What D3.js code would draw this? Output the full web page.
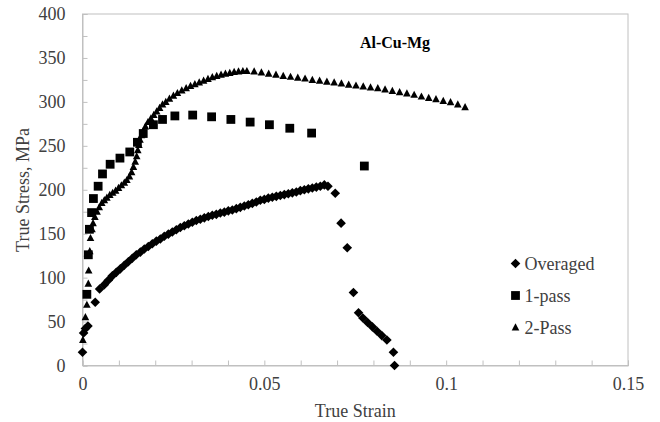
<!DOCTYPE html>
<html>
<head>
<meta charset="utf-8">
<script src="https://cdn.jsdelivr.net/npm/d3@7"></script>
<style>
  body { margin: 0; background: #fff; }
  text { font-family: "Liberation Serif", "Times New Roman", serif; }
</style>
</head>
<body>
<div class="container"></div>
<script>
// data: [strain, stress]
let overaged = [
    [0, 15], [0.0003, 37], [0.0008, 42], [0.0015, 45], [0.0035, 72], [0.0047, 87],
    [0.006, 92], [0.0071, 97], [0.0082, 102], [0.0093, 106], [0.0104, 110], [0.0115, 114],
    [0.0126, 118], [0.0137, 122], [0.0148, 126], [0.0159, 129], [0.017, 132.5], [0.0181, 135.5],
    [0.0192, 138.5], [0.0203, 141.5], [0.0214, 144], [0.0225, 147], [0.0236, 149.5], [0.0247, 152],
    [0.0258, 154.5], [0.0269, 157], [0.028, 159], [0.0291, 161], [0.0302, 163], [0.0313, 165],
    [0.0324, 166.5], [0.0335, 168], [0.0346, 169.5], [0.0357, 171], [0.0368, 172], [0.0379, 173.5],
    [0.039, 174.5], [0.0401, 176], [0.0412, 177], [0.0423, 178.5], [0.0434, 180], [0.0445, 181.5],
    [0.0456, 183], [0.0467, 184.5], [0.0478, 186], [0.0489, 188], [0.05, 189], [0.0511, 190.5],
    [0.0522, 191.5], [0.0533, 192.5], [0.0544, 193.5], [0.0555, 194.5], [0.0566, 195.5], [0.0577, 196.5],
    [0.0588, 197.5], [0.0599, 199], [0.061, 200], [0.0621, 201], [0.0632, 202], [0.0643, 203],
    [0.0654, 204], [0.0665, 205.5], [0.0675, 204], [0.0695, 196], [0.0711, 162], [0.0728, 134],
    [0.0745, 83], [0.0759, 60], [0.0771, 54], [0.0784, 49], [0.0797, 44], [0.081, 39],
    [0.0823, 34], [0.0837, 29], [0.0855, 15], [0.0858, 0]
];

let onePass = [
    [0.0012, 81], [0.0016, 126], [0.0019, 155], [0.0025, 174], [0.003, 190], [0.0043, 204],
    [0.0055, 218], [0.0076, 229], [0.0103, 236], [0.013, 243], [0.0151, 254], [0.0167, 264],
    [0.0195, 274], [0.022, 280], [0.0254, 284], [0.0303, 285], [0.0355, 283], [0.0408, 280],
    [0.0461, 277], [0.0514, 274], [0.057, 270], [0.063, 264.5], [0.0775, 227]
];

let twoPass = [
    [0.0001, 29], [0.0004, 40], [0.0008, 55], [0.0012, 69], [0.0016, 93], [0.0017, 108],
    [0.002, 130], [0.0022, 145], [0.0026, 155], [0.0029, 162], [0.0034, 169], [0.004, 175],
    [0.0046, 180], [0.0053, 185], [0.006, 188], [0.0067, 191], [0.0075, 194], [0.0083, 196.5],
    [0.0091, 199], [0.0099, 202], [0.0107, 205], [0.0115, 208], [0.0122, 211], [0.0129, 215],
    [0.0135, 220], [0.014, 226], [0.0145, 232], [0.0149, 238], [0.0152, 245], [0.0155, 251],
    [0.0158, 257], [0.0162, 262], [0.0167, 267], [0.0173, 272], [0.018, 277], [0.0188, 281],
    [0.0196, 285], [0.0204, 289], [0.0212, 293], [0.022, 297], [0.0229, 300], [0.0239, 303.5],
    [0.025, 307], [0.0261, 310], [0.0273, 313], [0.0285, 315.5], [0.0297, 318], [0.0309, 320],
    [0.0321, 322], [0.0333, 324], [0.0345, 326], [0.0357, 328], [0.0369, 329.5], [0.0381, 331],
    [0.0393, 332], [0.0405, 333], [0.0417, 334], [0.0429, 334.5], [0.0441, 335], [0.0452, 335],
    [0.0472, 334.5], [0.0492, 333.5], [0.0512, 332], [0.0532, 331], [0.0552, 329.5], [0.0572, 328.5],
    [0.0592, 327.5], [0.0612, 326.5], [0.0632, 325], [0.0652, 324], [0.0672, 323], [0.0692, 322],
    [0.0712, 321], [0.0732, 319.5], [0.0752, 318.5], [0.0772, 317.5], [0.0792, 316.5], [0.0812, 315.5],
    [0.0832, 314], [0.0852, 312.5], [0.0872, 311], [0.0892, 309.5], [0.0912, 308], [0.0932, 306],
    [0.0952, 304.5], [0.0972, 303], [0.0992, 301], [0.1012, 299.5], [0.1032, 297], [0.1052, 294]
];

let xTicks = d3.range(0, 16).map(i => i / 100);
let yTicks = d3.range(0, 17).map(i => i * 25);
let legendNames = ["Overaged", "1-pass", "2-Pass"];

let margin = {top: 14, right: 32, bottom: 56.5, left: 82.5},
    width = 660 - margin.left - margin.right,
    height = 422 - margin.top - margin.bottom;

let svg = d3.select(".container")
    .append("svg")
    .attr("width", 660)
    .attr("height", 422)
    .append("g")
    .attr("transform", "translate(" + margin.left + "," + margin.top + ")");

let x = d3.scaleLinear().domain([0, 0.15]).range([0, width]);
let y = d3.scaleLinear().domain([0, 400]).range([height, 0]);

// plot area border
svg.append("rect")
    .attr("width", width)
    .attr("height", height)
    .style("fill", "none")
    .attr("stroke", "#c0c0c0");

let xAxis = svg.append("g")
    .attr("transform", "translate(0," + height + ")")
    .call(d3.axisBottom(x)
        .tickValues(xTicks)
        .tickSize(-5)
        .tickPadding(12)
        .tickFormat(d => (Math.round(d * 100) % 5 === 0) ? String(d) : ""));

let yAxis = svg.append("g")
    .call(d3.axisLeft(y)
        .tickValues(yTicks)
        .tickSize(-5)
        .tickPadding(17)
        .tickFormat(d => d % 50 === 0 ? d : ""));

[xAxis, yAxis].forEach(a => {
    a.attr("font-family", "Liberation Serif").attr("font-size", 18);
    a.select(".domain").attr("stroke", "#c0c0c0");
    a.selectAll(".tick line").attr("stroke", "#c0c0c0");
    a.selectAll(".tick text")
        .style("font-family", "'Liberation Serif', serif")
        .style("font-size", "18px")
        .attr("fill", "#404040");
});

// marker shapes
const diamond = "M0,-4.8L4.8,0L0,4.8L-4.8,0Z";
const square = "M-4.4,-4.4H4.4V4.4H-4.4Z";
const triangle = "M0,-4.2L3.8,3L-3.8,3Z";

const drawSeries = (data, shape, cls) => {
    svg.append("g")
        .selectAll("path." + cls)
        .data(data)
        .enter()
        .append("path")
        .attr("class", cls)
        .attr("d", shape)
        .attr("transform", d => "translate(" + x(d[0]) + "," + y(d[1]) + ")")
        .style("fill", "black");
};

drawSeries(overaged, diamond, "overaged");
drawSeries(onePass, square, "onepass");
drawSeries(twoPass, triangle, "twopass");

// axis titles
svg.append("text")
    .attr("x", width / 2)
    .attr("y", 403)
    .attr("text-anchor", "middle")
    .style("font-size", "18px")
    .attr("fill", "#404040")
    .text("True Strain");

svg.append("text")
    .attr("transform", "translate(" + (23 - margin.left) + "," + (190 - margin.top) + ") rotate(-90)")
    .attr("dy", "0.35em")
    .attr("text-anchor", "middle")
    .style("font-size", "18px")
    .attr("fill", "#404040")
    .text("True Stress, MPa");

svg.append("text")
    .attr("x", 395 - margin.left)
    .attr("y", 42 - margin.top)
    .attr("dy", "0.35em")
    .attr("text-anchor", "middle")
    .style("font-size", "16px")
    .style("font-weight", "bold")
    .attr("fill", "black")
    .text("Al-Cu-Mg");

// legend
let shapes = [diamond, square, triangle];
let legend = svg.append("g")
    .attr("transform", "translate(" + (515.5 - margin.left) + "," + (263.5 - margin.top) + ")");

legendNames.forEach((name, i) => {
    legend.append("path")
        .attr("d", shapes[i])
        .attr("transform", "translate(0," + (i * 32) + ")")
        .style("fill", "black");
    legend.append("text")
        .attr("x", 9)
        .attr("y", i * 32)
        .attr("dy", "0.35em")
        .style("font-size", "18px")
        .attr("fill", "#404040")
        .text(name);
});
</script>
</body>
</html>
